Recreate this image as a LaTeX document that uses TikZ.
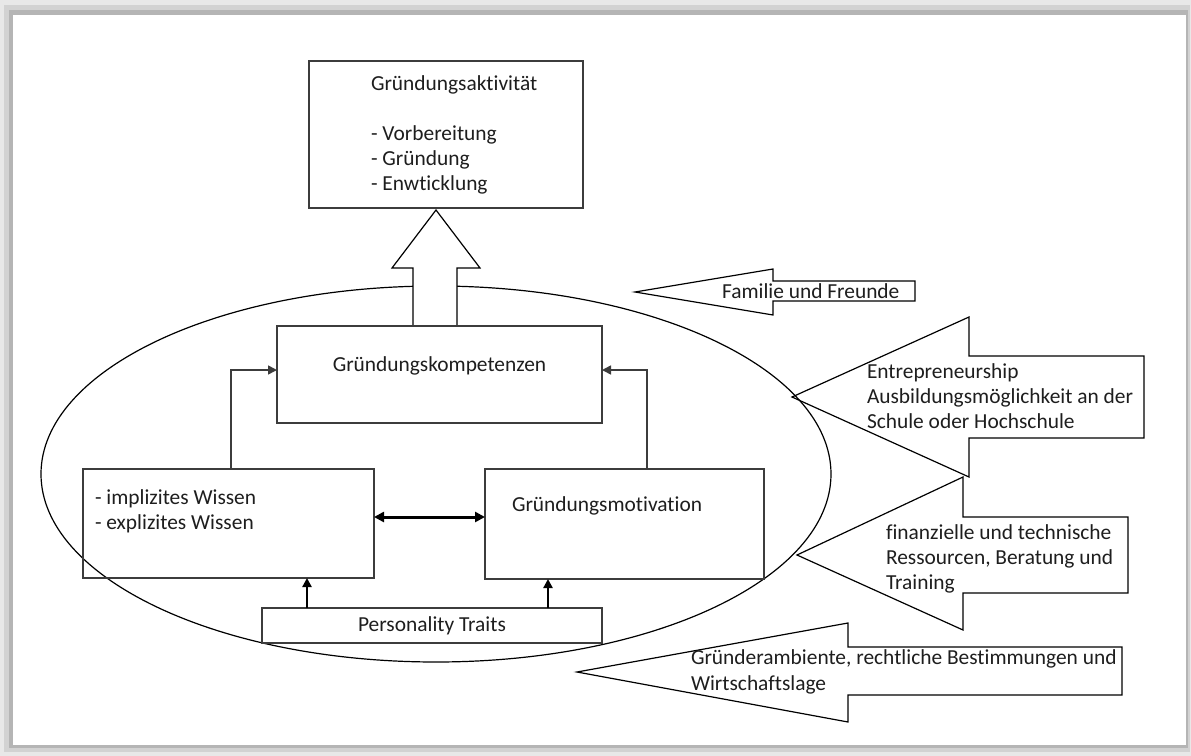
\documentclass[tikz,border=0pt]{standalone}
\usepackage{fontspec}
\setmainfont{Carlito}[Ligatures=NoCommon]
\usetikzlibrary{arrows.meta,calc}
\definecolor{frameA}{HTML}{E8E8E8}
\definecolor{frameB}{HTML}{D2D2D2}
\definecolor{frameC}{HTML}{B5B5B5}
\definecolor{txt}{HTML}{1E1E1E}
\definecolor{edge}{HTML}{3C3C3C}
\begin{document}
\begin{tikzpicture}[x=0.5pt,y=-0.5pt,
  font=\fontsize{10.7}{12.5}\selectfont,
  box/.style={draw=edge, line width=0.9pt, inner sep=0pt, outer sep=0pt},
  lbl/.style={inner sep=0pt, outer sep=0pt, text=txt, anchor=base west},
  conn/.style={draw=edge, line width=0.8pt, -{Triangle[length=4.5pt,width=4.5pt]}},
  boldconn/.style={draw=black, line width=1.3pt, -{Triangle[length=4.5pt,width=4.5pt]}},
  dblconn/.style={draw=black, line width=1.5pt, {Triangle[length=5pt,width=5pt]}-{Triangle[length=5pt,width=5pt]}},
  blk/.style={draw=black, line width=0.6pt, line join=miter}]
\useasboundingbox (0,0) rectangle (1191,756);
% frame
\fill[frameA] (0,0) rectangle (1191,756);
\fill[frameB] (4,5) rectangle (1190,752);
\fill[frameC] (9,10) rectangle (1188,748);
\fill[white] (13,15) rectangle (1186,745);

% ellipse
\draw[line width=0.6pt] (436,474) ellipse [x radius=197.5pt, y radius=94pt];

% big up arrow
\draw[blk, fill=white] (436,210) -- (480,268) -- (457,268) -- (457,326) -- (413,326) -- (413,268) -- (392,268) -- cycle;

% boxes
\node[box, minimum width=137pt, minimum height=73.5pt] (act) at (446,134.5) {};
\node[lbl] (acttxt) at (371,90) {\begin{tabular}[t]{@{}l@{}}Gründungsaktivität\\ \\ - Vorbereitung\\ - Gründung\\ - Enwticklung\end{tabular}};

\node[box, fill=white, minimum width=162.5pt, minimum height=48.5pt] (komp) at (439.5,374.5) {};
\node[lbl, anchor=base] (komptxt) at (439.5,371.5) {Gründungskompetenzen};

\node[box, minimum width=145.5pt, minimum height=54.5pt] (wissen) at (228.5,523.5) {};
\node[lbl] (wissentxt) at (95,504.5) {\begin{tabular}[t]{@{}l@{}}- implizites Wissen\\ - explizites Wissen\end{tabular}};

\node[box, minimum width=139.5pt, minimum height=55pt] (motiv) at (624.5,524) {};
\node[lbl] (motivtxt) at (512,511.5) {Gründungsmotivation};

\node[box, fill=white, minimum width=170pt, minimum height=17.5pt] (traits) at (432,625.5) {};
\node[lbl, anchor=base] (traitstxt) at (432,631.5) {Personality Traits};

% connectors
\draw[conn] ([xshift=74pt]wissen.north west) |- ([yshift=2.25pt]komp.west);
\draw[conn] ([xshift=81pt]motiv.north west) |- ([yshift=2.25pt]komp.east);
\draw[dblconn] ([yshift=3.25pt]wissen.east) -- ([yshift=3.25pt]wissen.east -| motiv.west);
\draw[boldconn] ([xshift=22.5pt]traits.north west) -- ([xshift=22.5pt]traits.north west |- wissen.south);
\draw[boldconn] ([xshift=143pt]traits.north west) -- ([xshift=143pt]traits.north west |- motiv.south);

% influence arrows
\draw[blk] (635,292) -- (773,269) -- (773,281) -- (915,281) -- (915,301) -- (773,301) -- (773,315) -- cycle;
\node[lbl] (fam) at (722,298.5) {Familie und Freunde};

\draw[blk] (792,397) -- (969,317) -- (969,356) -- (1144,356) -- (1144,438) -- (969,438) -- (969,477) -- cycle;
\node[lbl] (entre) at (867,378.5) {\begin{tabular}[t]{@{}l@{}}Entrepreneurship\\ Ausbildungsmöglichkeit an der\\ Schule oder Hochschule\end{tabular}};

\draw[blk] (797,555) -- (963,477) -- (963,517) -- (1128,517) -- (1128,593) -- (963,593) -- (963,630) -- cycle;
\node[lbl] (fin) at (886,539.5) {\begin{tabular}[t]{@{}l@{}}finanzielle und technische\\ Ressourcen, Beratung und\\ Training\end{tabular}};

\draw[blk] (577,672) -- (848,623) -- (848,647) -- (1122,647) -- (1122,695) -- (848,695) -- (848,722) -- cycle;
\node[lbl] (amb) at (691,664.5) {\begin{tabular}[t]{@{}l@{}}Gründerambiente, rechtliche Bestimmungen und\\[0.5pt] Wirtschaftslage\end{tabular}};
\end{tikzpicture}
\end{document}
